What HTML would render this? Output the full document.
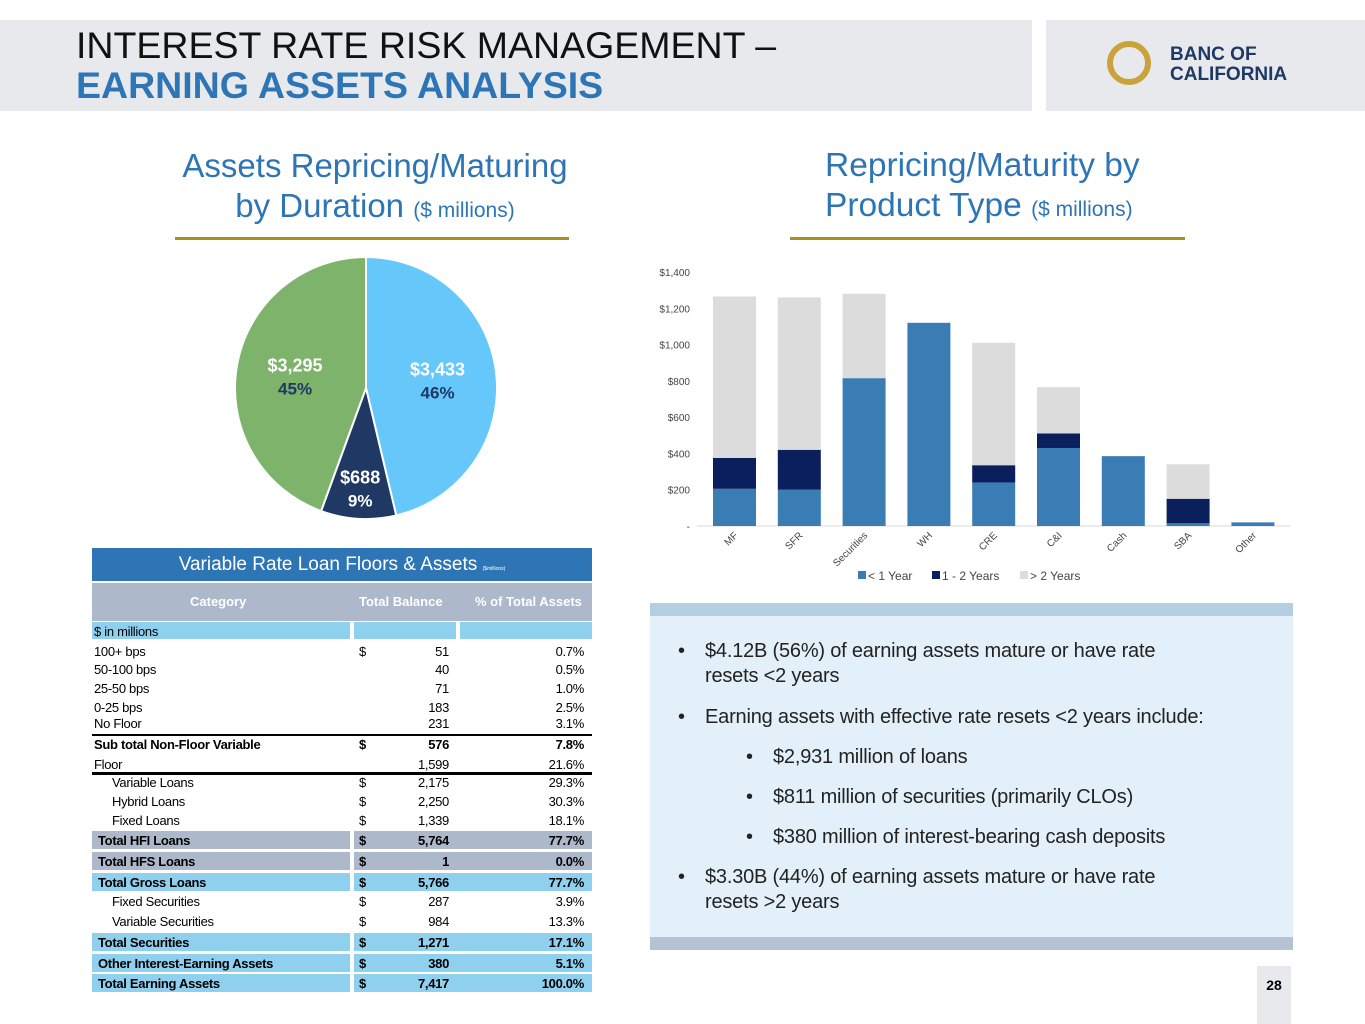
<!DOCTYPE html>
<html><head><meta charset="utf-8"><style>
body{margin:0;width:1365px;height:1024px;position:relative;background:#fff;font-family:"Liberation Sans",Arial,sans-serif;overflow:hidden}
.a{position:absolute}
.r{position:absolute;left:92px;width:500px;height:19px;font-size:13px;line-height:19px;color:#000;letter-spacing:-0.3px}
.r span{position:absolute}
.l{left:2px}.d{left:267px}.b{right:143px}.p{right:8px}
.bold{font-weight:bold}
.bl{background:#8fd0ee}.gr{background:#adb9ca}
.gap1{position:absolute;left:258px;width:4px;top:0;bottom:0;background:#fff}
.gap2{position:absolute;left:364px;width:4px;top:0;bottom:0;background:#fff}
ul{margin:0;padding:0;list-style:none}
li{position:absolute;font-size:20px;color:#222;line-height:25px;letter-spacing:-0.2px}
li:before{content:"•";position:absolute;left:-27px}
</style></head><body>
<div class="a" style="left:0;top:20px;width:1032px;height:91px;background:#e7e9ec"></div>
<div class="a" style="left:1046px;top:20px;width:319px;height:91px;background:#e7e9ec"></div>
<div class="a" style="left:76px;top:25px;font-size:37.5px;line-height:40px;color:#111">INTEREST RATE RISK MANAGEMENT –<br><b style="color:#2e75b6">EARNING ASSETS ANALYSIS</b></div>
<svg class="a" style="left:1104px;top:38px" width="50" height="50"><circle cx="25" cy="25" r="19" fill="none" stroke="#c9a23a" stroke-width="6"/></svg>
<div class="a" style="left:1170px;top:45px;font-size:19px;font-weight:bold;line-height:20px;color:#1f3864">BANC OF<br>CALIFORNIA</div>

<div class="a" style="left:150px;top:146px;width:450px;text-align:center;font-size:33px;line-height:40px;color:#2e75b6">Assets Repricing/Maturing<br>by Duration <span style="font-size:21px">($ millions)</span></div>
<div class="a" style="left:175px;top:237px;width:394px;height:3px;background:#a8901f"></div>
<div class="a" style="left:825px;top:146px;font-size:33.5px;line-height:40px;color:#2e75b6">Repricing/Maturity by<br>Product Type <span style="font-size:21px">($ millions)</span></div>
<div class="a" style="left:790px;top:237px;width:395px;height:3px;background:#a8901f"></div>

<svg class="a" id="pie" style="left:0;top:0" width="640" height="540"></svg>
<svg class="a" id="bar" style="left:0;top:0" width="1365" height="600"></svg>

<div class="a" style="left:92px;top:548px;width:500px;height:33px;background:#2e75b6;color:#fff;font-size:19px;line-height:33px;text-align:center">Variable Rate Loan Floors &amp; Assets <span style="font-size:5px">($millions)</span></div>
<div class="a" style="left:92px;top:583px;width:500px;height:38px;background:#adb9ca;color:#fff;font-size:13px;font-weight:bold;line-height:38px">
<span class="a" style="left:98px">Category</span><span class="a" style="left:267px">Total Balance</span><span class="a" style="left:383px">% of Total Assets</span></div>
<div class="r bl" style="top:622px;height:17px;line-height:20px"><span class="l">$ in millions</span><div class="gap1"></div><div class="gap2"></div></div>
<div class="r" style="top:642px"><span class="l">100+ bps</span><span class="d">$</span><span class="b">51</span><span class="p">0.7%</span></div>
<div class="r" style="top:660px"><span class="l">50-100 bps</span><span class="b">40</span><span class="p">0.5%</span></div>
<div class="r" style="top:679px"><span class="l">25-50 bps</span><span class="b">71</span><span class="p">1.0%</span></div>
<div class="r" style="top:698px"><span class="l">0-25 bps</span><span class="b">183</span><span class="p">2.5%</span></div>
<div class="r" style="top:714px"><span class="l">No Floor</span><span class="b">231</span><span class="p">3.1%</span></div>
<div class="a" style="left:92px;top:734px;width:500px;height:2px;background:#000"></div>
<div class="r bold" style="top:735px"><span class="l">Sub total Non-Floor Variable</span><span class="d">$</span><span class="b">576</span><span class="p">7.8%</span></div>
<div class="r" style="top:755px"><span class="l">Floor</span><span class="b">1,599</span><span class="p">21.6%</span></div>
<div class="a" style="left:92px;top:772px;width:500px;height:3px;background:#000"></div>
<div class="r" style="top:773px"><span class="l" style="left:20px">Variable Loans</span><span class="d">$</span><span class="b">2,175</span><span class="p">29.3%</span></div>
<div class="r" style="top:792px"><span class="l" style="left:20px">Hybrid Loans</span><span class="d">$</span><span class="b">2,250</span><span class="p">30.3%</span></div>
<div class="r" style="top:811px"><span class="l" style="left:20px">Fixed Loans</span><span class="d">$</span><span class="b">1,339</span><span class="p">18.1%</span></div>
<div class="r bold gr" style="top:831px;height:18px"><span class="l" style="left:6px">Total HFI Loans</span><span class="d">$</span><span class="b">5,764</span><span class="p">77.7%</span><div class="gap1"></div></div>
<div class="r bold gr" style="top:852px;height:18px"><span class="l" style="left:6px">Total HFS Loans</span><span class="d">$</span><span class="b">1</span><span class="p">0.0%</span><div class="gap1"></div></div>
<div class="r bold bl" style="top:873px;height:18px"><span class="l" style="left:6px">Total Gross Loans</span><span class="d">$</span><span class="b">5,766</span><span class="p">77.7%</span><div class="gap1"></div></div>
<div class="r" style="top:892px"><span class="l" style="left:20px">Fixed Securities</span><span class="d">$</span><span class="b">287</span><span class="p">3.9%</span></div>
<div class="r" style="top:912px"><span class="l" style="left:20px">Variable Securities</span><span class="d">$</span><span class="b">984</span><span class="p">13.3%</span></div>
<div class="r bold bl" style="top:933px;height:18px"><span class="l" style="left:6px">Total Securities</span><span class="d">$</span><span class="b">1,271</span><span class="p">17.1%</span><div class="gap1"></div></div>
<div class="r bold bl" style="top:954px;height:18px"><span class="l" style="left:6px">Other Interest-Earning Assets</span><span class="d">$</span><span class="b">380</span><span class="p">5.1%</span><div class="gap1"></div></div>
<div class="r bold bl" style="top:974px;height:18px"><span class="l" style="left:6px">Total Earning Assets</span><span class="d">$</span><span class="b">7,417</span><span class="p">100.0%</span><div class="gap1"></div></div>

<div class="a" style="left:650px;top:603px;width:643px;height:13px;background:#b4cfe2"></div>
<div class="a" style="left:650px;top:616px;width:643px;height:321px;background:#e3f0f9">
<ul>
<li style="left:55px;top:23px">$4.12B (56%) of earning assets mature or have rate<br>resets &lt;2 years</li>
<li style="left:55px;top:89px">Earning assets with effective rate resets &lt;2 years include:</li>
<li style="left:123px;top:129px">$2,931 million of loans</li>
<li style="left:123px;top:169px">$811 million of securities (primarily CLOs)</li>
<li style="left:123px;top:209px">$380 million of interest-bearing cash deposits</li>
<li style="left:55px;top:249px">$3.30B (44%) of earning assets mature or have rate<br>resets &gt;2 years</li>
</ul></div>
<div class="a" style="left:650px;top:937px;width:643px;height:13px;background:#b4c3d3"></div>
<div class="a" style="left:1257px;top:966px;width:34px;height:58px;background:#e7e9ec;font-size:14px;font-weight:bold;text-align:center;line-height:38px">28</div>

<script>
const pieLabels=["$3,433","$688","$3,295"];
const pieValues=[3433,688,3295];
const piePcts=["46%","9%","45%"];
const pieColors=["#66c8fa","#1f3864","#7db36a"];
const pieText=["#fff","#fff","#fff"];
const pctText=["#1f3864","#fff","#1f3864"];

const categories=["MF","SFR","Securities","WH","CRE","C&I","Cash","SBA","Other"];
const lt1Year=[205,200,815,1120,240,430,385,15,20];
const oneToTwo=[170,220,0,0,95,80,0,135,0];
const gt2Years=[890,840,465,0,675,255,0,190,0];
const yTicks=[0,200,400,600,800,1000,1200,1400];
const yTickLabels=["-","$200","$400","$600","$800","$1,000","$1,200","$1,400"];

const NS="http://www.w3.org/2000/svg";
function mk(p,t,a){const e=document.createElementNS(NS,t);for(const k in a)e.setAttribute(k,a[k]);p.appendChild(e);return e;}

const pie=document.getElementById('pie');
const cx=366,cy=388,R=131;
const tot=pieValues.reduce((a,b)=>a+b,0);
let ang=-Math.PI/2;
pieValues.forEach((v,i)=>{
  const a2=ang+v/tot*2*Math.PI;
  const x1=cx+R*Math.cos(ang),y1=cy+R*Math.sin(ang),x2=cx+R*Math.cos(a2),y2=cy+R*Math.sin(a2);
  const s=mk(pie,'path',{d:`M${cx},${cy}L${x1},${y1}A${R},${R} 0 ${a2-ang>Math.PI?1:0} 1 ${x2},${y2}Z`,fill:pieColors[i],stroke:'#fff','stroke-width':2});
  
  
  const m=(ang+a2)/2, rr=i==1?R*0.76:R*0.55;
  const lx=cx+rr*Math.cos(m), ly=cy+rr*Math.sin(m);
  const t1=mk(pie,'text',{x:lx,y:ly-4,'text-anchor':'middle','font-size':18,'font-weight':'bold',fill:pieText[i]});
  t1.textContent=pieLabels[i];
  
  
  const t2=mk(pie,'text',{x:lx,y:ly+19,'text-anchor':'middle','font-size':17,'font-weight':'bold',fill:pctText[i]});
  t2.textContent=piePcts[i];
  
  
  ang=a2;
});

const bar=document.getElementById('bar');
const y0=526,pxPer=254/1400;
const yS=v=>y0-v*pxPer;
const x0=703,step=64.8,bw=43;
const xS=i=>x0+10+i*step;
yTicks.forEach((t,i)=>{
  const e=mk(bar,'text',{x:690,y:yS(t)+4,'text-anchor':'end','font-size':10,fill:'#444'});
  e.textContent=yTickLabels[i];
  
  
});
const ax=mk(bar,'line',{x1:697,x2:1290,y1:y0,y2:y0,stroke:'#d9d9d9'});


const cols=["#3a7db5","#0b1f5c","#dcdcdc"];
categories.forEach((c,i)=>{
  let base=0;
  [lt1Year,oneToTwo,gt2Years].forEach((s,k)=>{
    const v=s[i]; if(!v) return;
    const r=mk(bar,'rect',{x:xS(i),y:yS(base+v),width:bw,height:v*pxPer,fill:cols[k]});
    
    
    base+=v;
  });
  const cx2=xS(i)+bw/2;
  const t=mk(bar,'text',{x:cx2+4,y:536,'text-anchor':'end','font-size':10,fill:'#444',transform:`rotate(-45 ${cx2+4} 536)`});
  t.textContent=c;
  
  
});
const leg=[["< 1 Year",858],["1 - 2 Years",932],["> 2 Years",1020]];
leg.forEach((l,k)=>{
  const r=mk(bar,'rect',{x:l[1],y:571,width:8,height:8,fill:cols[k]});
  
  
  const t=mk(bar,'text',{x:l[1]+10,y:580,'font-size':12,fill:'#444'});
  t.textContent=l[0];
  
  
});
</script>
</body></html>
